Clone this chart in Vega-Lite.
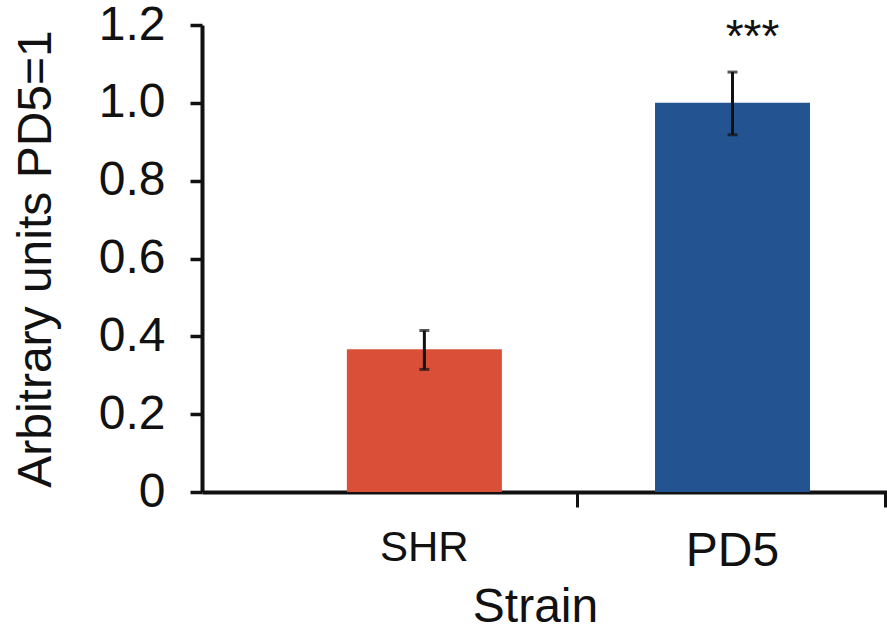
{
  "$schema": "https://vega.github.io/schema/vega-lite/v6.json",
  "width": 685,
  "height": 467,
  "autosize": {"type": "none"},
  "padding": {"left": 202, "top": 25, "right": 0, "bottom": 145},
  "background": "white",
  "config": {"view": {"stroke": null}, "font": "Liberation Sans"},
  "data": {"values": [
    {"strain": "SHR", "value": 0.367, "lo": 0.315, "hi": 0.415, "sig": ""},
    {"strain": "PD5", "value": 1.0, "lo": 0.918, "hi": 1.079, "sig": "***"}
  ]},
  "encoding": {
    "x": {
      "field": "strain", "type": "nominal", "sort": ["SHR", "PD5"],
      "scale": {"paddingInner": 0.497, "paddingOuter": 0.36, "align": 0.653},
      "axis": {
        "title": "Strain", "labelAngle": 0,
        "labelFontSize": {"expr": "datum.value == 'SHR' ? 42 : 48"},
        "labelColor": "#111", "titleColor": "#111", "titleFontWeight": "normal",
        "titleFontSize": 48, "titlePadding": 8, "titleX": 333,
        "domainColor": "#111", "domainWidth": 4,
        "tickColor": "#111", "tickWidth": 3, "tickSize": 15, "bandPosition": 1.49,
        "labelPadding": 20
      }
    }
  },
  "layer": [
    {
      "mark": {"type": "bar"},
      "encoding": {
        "y": {
          "field": "value", "type": "quantitative",
          "scale": {"domain": [0, 1.2]},
          "axis": {
            "title": "Arbitrary units PD5=1",
            "values": [0, 0.2, 0.4, 0.6, 0.8, 1, 1.2],
            "labelExpr": "datum.value == 0 ? '0' : format(datum.value, '.1f')",
            "labelFontSize": 48, "titleFontSize": 48, "grid": false,
            "labelColor": "#111", "titleColor": "#111", "titleFontWeight": "normal",
            "domainColor": "#111", "domainWidth": 4,
            "tickColor": "#111", "tickWidth": 3.5, "tickSize": 12,
            "labelPadding": 25, "titlePadding": 38
          }
        },
        "color": {
          "field": "strain", "type": "nominal",
          "scale": {"domain": ["SHR", "PD5"], "range": ["#D94F37", "#245391"]},
          "legend": null
        }
      }
    },
    {
      "mark": {"type": "rule", "strokeWidth": 3, "color": "#111"},
      "encoding": {"y": {"field": "lo", "type": "quantitative"}, "y2": {"field": "hi"}}
    },
    {
      "mark": {"type": "tick", "size": 10, "thickness": 3, "color": "#111"},
      "encoding": {"y": {"field": "lo", "type": "quantitative"}}
    },
    {
      "mark": {"type": "tick", "size": 10, "thickness": 3, "color": "#111"},
      "encoding": {"y": {"field": "hi", "type": "quantitative"}}
    },
    {
      "mark": {"type": "text", "fontSize": 46, "dx": 20, "dy": -20, "baseline": "alphabetic", "color": "#111"},
      "encoding": {"y": {"field": "hi", "type": "quantitative"}, "text": {"field": "sig"}}
    }
  ]
}
